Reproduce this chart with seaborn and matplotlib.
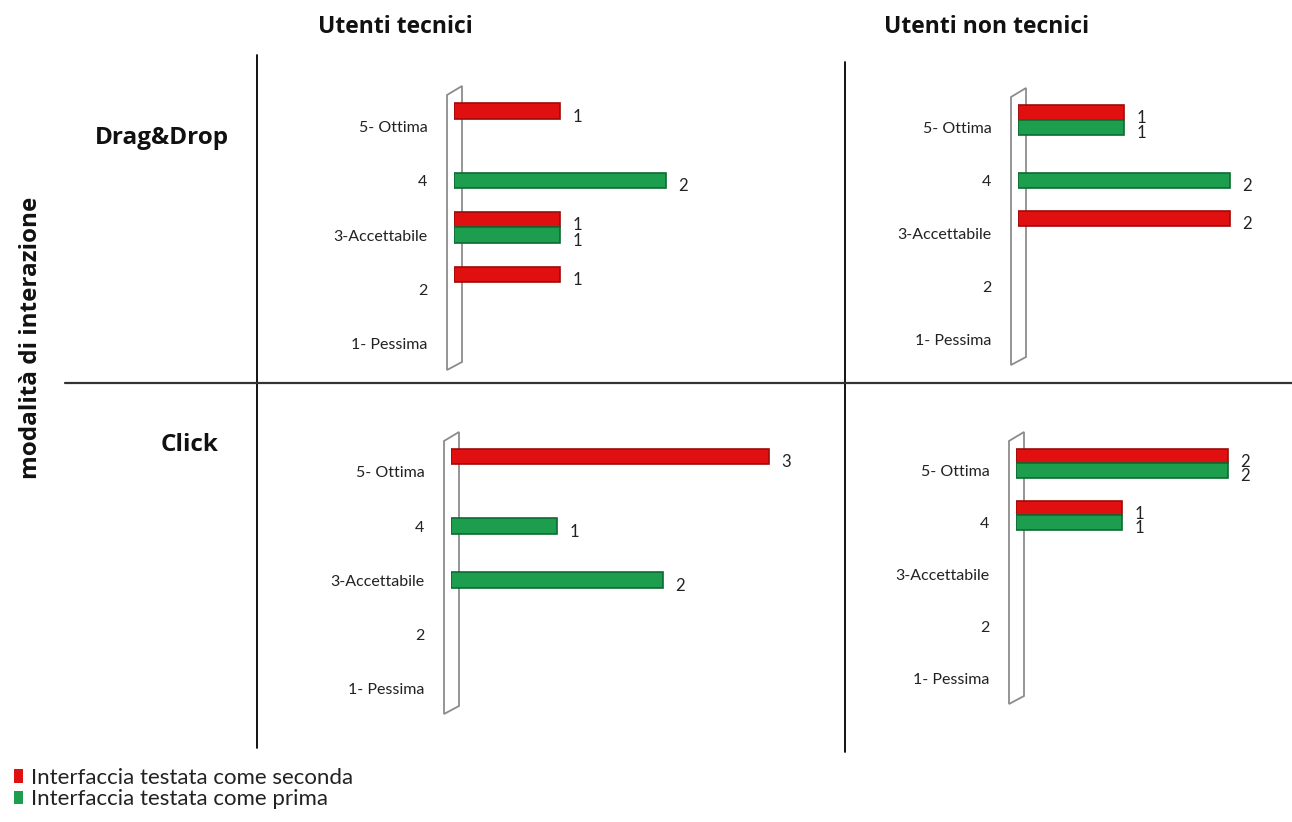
import numpy as np
import pandas as pd
import matplotlib
matplotlib.use("Agg")
import matplotlib.pyplot as plt
import seaborn as sns
from matplotlib.patches import Polygon, Patch
from matplotlib.lines import Line2D

# ---------------- data ----------------
categories = ["5- Ottima", "4", "3-Accettabile", "2", "1- Pessima"]
series = ["Interfaccia testata come seconda", "Interfaccia testata come prima"]
col_titles = ["Utenti tecnici", "Utenti non tecnici"]
row_titles = ["Drag&Drop", "Click"]
y_title = "modalità di interazione"

# values per category (same order as categories)
tec_dd_seconda = [1, 0, 1, 1, 0]
tec_dd_prima = [0, 2, 1, 0, 0]
non_dd_seconda = [1, 0, 2, 0, 0]
non_dd_prima = [1, 2, 0, 0, 0]
tec_click_seconda = [3, 0, 0, 0, 0]
tec_click_prima = [0, 1, 2, 0, 0]
non_click_seconda = [2, 1, 0, 0, 0]
non_click_prima = [2, 1, 0, 0, 0]

colors = {series[0]: "#e01010", series[1]: "#1c9e4e"}
edges = {series[0]: "#9e0a0a", series[1]: "#0d6a32"}

W, H = 1292, 822
sns.set_style("white")
plt.rcParams["font.family"] = ["Lato", "DejaVu Sans"]
fig = plt.figure(figsize=(W / 100, H / 100), dpi=100)


def fx(x):
    return x / W


def fy(y):
    return 1 - y / H


# panel boxes in pixels: (left, top, bottom)
panels = [
    ("tec_dd", tec_dd_seconda, tec_dd_prima, (454, 86, 370)),
    ("non_dd", non_dd_seconda, non_dd_prima, (1018, 88, 365)),
    ("tec_click", tec_click_seconda, tec_click_prima, (451, 432, 714)),
    ("non_click", non_click_seconda, non_click_prima, (1016, 432, 704)),
]
px_per_unit = 106
xmax = 3.35

for name, sec, pri, (left, top, bottom) in panels:
    df = pd.DataFrame({
        "Valutazione": categories * 2,
        "Conteggio": list(sec) + list(pri),
        "Serie": [series[0]] * 5 + [series[1]] * 5,
    })
    ax = fig.add_axes([fx(left), fy(bottom), xmax * px_per_unit / W, (bottom - top) / H])
    # 3D-like back wall
    x0, x1 = fx(left - 7), fx(left + 8)
    wall = Polygon([(x0, fy(top + 9)), (x1, fy(top)), (x1, fy(bottom - 8)), (x0, fy(bottom))],
                   closed=True, facecolor="white", edgecolor="#8c8c8c", linewidth=1.3,
                   transform=fig.transFigure, zorder=0)
    fig.add_artist(wall)
    sns.barplot(data=df, y="Valutazione", x="Conteggio", hue="Serie", order=categories,
                hue_order=series, palette=colors, orient="h", width=0.56, saturation=1,
                legend=False, ax=ax, zorder=3)
    for cont, s in zip(ax.containers, series):
        for p in cont.patches:
            p.set_edgecolor(edges[s])
            p.set_linewidth(1.2)
            p.set_zorder(3)
            if p.get_width() == 0:
                p.set_visible(False)
        labs = [f"{p.get_width():g}" if p.get_width() > 0 else "" for p in cont.patches]
        texts = ax.bar_label(cont, labels=labs, padding=9, fontsize=12, color="#222222")
        for t in texts:
            xa, ya = t.xyann
            t.xyann = (xa, ya - 4)
    ax.set_xlim(0, xmax)
    ax.set_ylim(4.62, -0.6)
    ax.set_yticks(np.arange(5) + 0.14)
    ax.set_yticklabels(categories)
    ax.tick_params(axis="y", length=0, pad=19, labelsize=11.5, labelcolor="#222222")
    ax.set_xticks([])
    ax.set_xlabel("")
    ax.set_ylabel("")
    for sp in ax.spines.values():
        sp.set_visible(False)
    ax.patch.set_alpha(0)

# grid lines
fig.add_artist(Line2D([fx(257), fx(257)], [fy(55), fy(748)], color="black", lw=1.3, transform=fig.transFigure))
fig.add_artist(Line2D([fx(845), fx(845)], [fy(62), fy(752)], color="black", lw=1.3, transform=fig.transFigure))
fig.add_artist(Line2D([fx(65), fx(1292)], [fy(383), fy(383)], color="#333333", lw=1.6, transform=fig.transFigure))

# headers
hfont = dict(fontfamily=["Open Sans", "DejaVu Sans"], fontweight="bold", color="#111111")
fig.text(fx(395), fy(27), col_titles[0], ha="center", va="center", fontsize=16.5, **hfont)
fig.text(fx(987), fy(27), col_titles[1], ha="center", va="center", fontsize=16.5, **hfont)
fig.text(fx(162), fy(138), row_titles[0], ha="center", va="center", fontsize=17.5, **hfont)
fig.text(fx(190), fy(445), row_titles[1], ha="center", va="center", fontsize=17.5, **hfont)
fig.text(fx(31), fy(338), y_title, ha="center", va="center", rotation=90, fontsize=17.5, **hfont)

# legend
handles = [Patch(facecolor=colors[s], edgecolor="none") for s in series]
leg = fig.legend(handles, series, loc="upper left", bbox_to_anchor=(fx(14), fy(768)),
                 frameon=False, fontsize=16, handlelength=0.42, handleheight=0.55,
                 handletextpad=0.35, labelspacing=0.05, borderaxespad=0, borderpad=0)
for t in leg.get_texts():
    t.set_color("#222222")

fig.savefig("out.png", dpi=100, facecolor="white")
